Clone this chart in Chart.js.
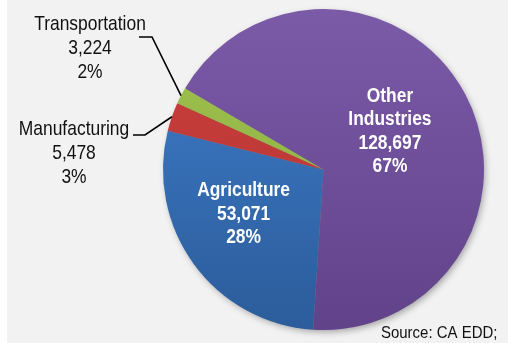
<!DOCTYPE html>
<html>
<head>
<meta charset="utf-8">
<script src="https://cdn.jsdelivr.net/npm/chart.js@4.4.1/dist/chart.umd.min.js"></script>
<style>
  html, body { margin: 0; padding: 0; background: #fff; }
  #wrap { position: absolute; left: 7px; top: 0; width: 501px; height: 343px; background: #f2f2f2; }
</style>
</head>
<body>
<div id="wrap"><canvas id="pie" width="501" height="343"></canvas></div>
<script>
// data
const industries = ['Agriculture', 'Manufacturing', 'Transportation', 'Other Industries'];
const labelLines = [['Agriculture'], ['Manufacturing'], ['Transportation'], ['Other', 'Industries']];
const workers = [53071, 5478, 3224, 128697];
const shares = ['28%', '3%', '2%', '67%'];
const sourceNote = 'Source: CA EDD;';

// styling
const topColors = ['#3e7ecb', '#cd3f3d', '#a0c34f', '#7b5aa8'];
const bottomColors = ['#2c5c9b', '#b03433', '#89aa40', '#61438a'];
const FONT = '"Liberation Sans", Arial, sans-serif';

// where each label goes: inside ones relative to pie centre (in radii), outside ones in px
const labelPos = [
  { inside: true, dx: -0.498, dy: 0.271 },
  { inside: false, x: 67, y: 135, elbow: [138, 135], lineStart: [126, 135] },
  { inside: false, x: 83, y: 30, elbow: [145, 37], lineStart: [132, 37] },
  { inside: true, dx: 0.414, dy: -0.246 }
];

function fmt(n){ return n.toLocaleString('en-US'); }

// condensed text: squeeze horizontally (no narrow font installed)
function narrowText(ctx, t, x, y, sx){
  ctx.save();
  ctx.translate(x, y);
  ctx.scale(sx, 1);
  ctx.fillText(t, 0, 0);
  ctx.restore();
}

function sliceFill(c){
  const i = c.dataIndex;
  const area = c.chart.chartArea;
  if(!area) return topColors[i];
  const g = c.chart.ctx.createLinearGradient(0, area.top, 0, area.bottom);
  g.addColorStop(0, topColors[i]);
  g.addColorStop(1, bottomColors[i]);
  return g;
}

const shadowPlugin = {
  id: 'pieShadow',
  beforeDatasetsDraw(chart){
    const arc = chart.getDatasetMeta(0).data[0];
    if(!arc) return;
    const ctx = chart.ctx;
    ctx.save();
    ctx.shadowColor = 'rgba(0,0,0,0.35)';
    ctx.shadowBlur = 7;
    ctx.shadowOffsetX = 2;
    ctx.shadowOffsetY = 3;
    ctx.fillStyle = '#888';
    ctx.beginPath();
    ctx.arc(arc.x, arc.y, arc.outerRadius - 1, 0, Math.PI * 2);
    ctx.fill();
    ctx.restore();
  }
};

const labelPlugin = {
  id: 'sliceLabels',
  afterDatasetsDraw(chart){
    const ctx = chart.ctx;
    const arcs = chart.getDatasetMeta(0).data;
    ctx.save();
    ctx.textAlign = 'center';
    ctx.textBaseline = 'alphabetic';
    arcs.forEach((arc, i) => {
      const p = labelPos[i];
      const lines = labelLines[i].concat([fmt(workers[i]), shares[i]]);
      if(p.inside){
        const lh = 23.5;
        const cx = arc.x + p.dx * arc.outerRadius;
        const cy = arc.y + p.dy * arc.outerRadius;
        const first = cy - (lines.length - 1) * lh / 2 + 7;
        ctx.fillStyle = '#ffffff';
        ctx.font = 'bold 20px ' + FONT;
        lines.forEach((t, k) => narrowText(ctx, t, cx, first + k * lh, 0.87));
      } else {
        const lh = 24;
        ctx.fillStyle = '#111';
        ctx.font = '21px ' + FONT;
        lines.forEach((t, k) => narrowText(ctx, t, p.x, p.y + k * lh, 0.83));
        // leader line from the middle of the slice edge
        const mid = (arc.startAngle + arc.endAngle) / 2;
        const ex = arc.x + Math.cos(mid) * arc.outerRadius;
        const ey = arc.y + Math.sin(mid) * arc.outerRadius;
        ctx.strokeStyle = '#000';
        ctx.lineWidth = 1.6;
        ctx.beginPath();
        ctx.moveTo(ex, ey);
        ctx.lineTo(p.elbow[0], p.elbow[1]);
        ctx.lineTo(p.lineStart[0], p.lineStart[1]);
        ctx.stroke();
      }
    });
    ctx.fillStyle = '#111';
    ctx.textAlign = 'left';
    ctx.font = '17px ' + FONT;
    narrowText(ctx, sourceNote, 374, 338, 0.88);
    ctx.restore();
  }
};

new Chart(document.getElementById('pie').getContext('2d'), {
  type: 'pie',
  data: {
    labels: industries,
    datasets: [{
      data: workers,
      backgroundColor: sliceFill,
      borderWidth: 0,
      hoverOffset: 0
    }]
  },
  options: {
    responsive: false,
    animation: false,
    rotation: 183.7,
    layout: { padding: { left: 156, right: 24, top: 9, bottom: 13 } },
    plugins: {
      legend: { display: false },
      tooltip: { enabled: false }
    },
    events: []
  },
  plugins: [shadowPlugin, labelPlugin]
});
</script>
</body>
</html>
